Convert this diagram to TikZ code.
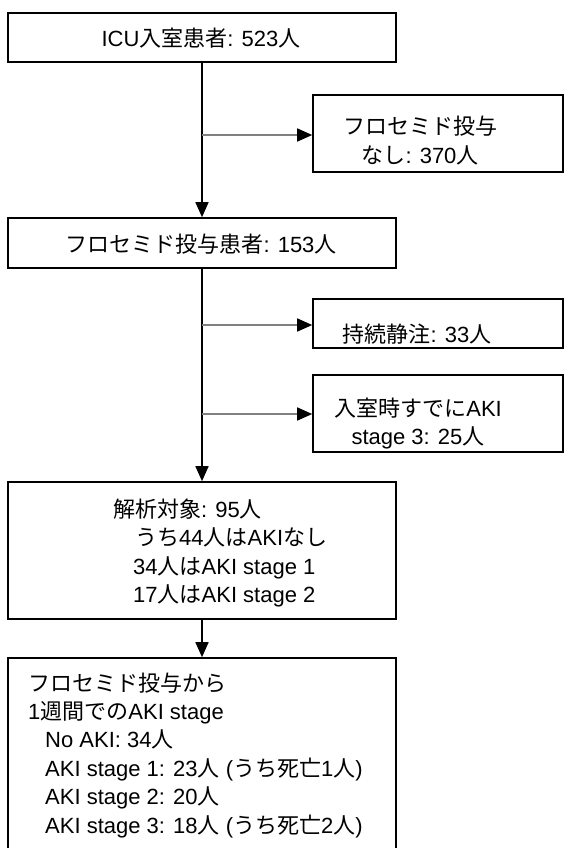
\documentclass[tikz,border=0pt]{standalone}
\usepackage{fontspec}
\setmainfont{Liberation Sans}
\newfontfamily\cjk[Scale=1.0]{Noto Sans CJK JP}
\usetikzlibrary{arrows.meta}
\newcommand\J[1]{{\cjk #1}}
\begin{document}
\begin{tikzpicture}[x=1pt,y=-1pt,
  box/.style={draw, line width=1.6pt, inner sep=0pt, minimum width=388pt},
  rbox/.style={draw, line width=1.6pt, inner sep=0pt, minimum width=250pt},
  txt/.style={inner sep=0pt, anchor=base, font=\fontsize{22}{28}\selectfont},
  ltxt/.style={inner sep=0pt, anchor=base west, font=\fontsize{22}{28}\selectfont},
  main/.style={line width=1.6pt, -{Triangle[length=15pt,width=13pt]}},
  side/.style={line width=1.5pt, draw=black!50, -{Triangle[length=15pt,width=13pt,fill=black,color=black]}}]
\useasboundingbox (0,0) rectangle (564,848);
\clip (0,0) rectangle (564,848);
\fill[white] (0,0) rectangle (564,848);
% boxes
\node[box, minimum height=49pt] (b1) at (202,37.5) {};
\node[rbox, minimum height=77pt] (b2) at (438,133.5) {};
\node[box, minimum height=50pt] (b3) at (202,243) {};
\node[rbox, minimum height=49pt] (b4) at (438,323.5) {};
\node[rbox, minimum height=77pt] (b5) at (438,413.5) {};
\node[box, minimum height=137pt] (b6) at (202,550.5) {};
\node[box, minimum height=220pt] (b7) at (202,768) {};
% texts
\node[txt] (t1) at (201,47) {ICU\J{入室患者}: 523\J{人}};
\node[txt] (t2a) at (420,135) {\J{フロセミド投与}};
\node[txt] (t2b) at (420,163) {\J{なし}: 370\J{人}};
\node[txt] (t3) at (201,252) {\J{フロセミド投与患者}: 153\J{人}};
\node[txt] (t4) at (417,342) {\J{持続静注}: 33\J{人}};
\node[txt] (t5a) at (418,416.5) {\J{入室時すでに}AKI};
\node[txt] (t5b) at (418,444) {stage 3: 25\J{人}};
\node[ltxt] (t6a) at (113,517) {\J{解析対象}: 95\J{人}};
\node[ltxt] (t6b) at (135,545.5) {\J{うち}44\J{人は}AKI\J{なし}};
\node[ltxt] (t6c) at (133,574) {34\J{人は}AKI stage 1};
\node[ltxt] (t6d) at (133,602.5) {17\J{人は}AKI stage 2};
\node[ltxt] (t7a) at (28,691) {\J{フロセミド投与から}};
\node[ltxt] (t7b) at (28,719) {1\J{週間での}AKI stage};
\node[ltxt] (t7c) at (45,747.5) {No AKI: 34\J{人}};
\node[ltxt] (t7d) at (45,776) {AKI stage 1: 23\J{人} (\J{うち死亡}1\J{人})};
\node[ltxt] (t7e) at (45,804) {AKI stage 2: 20\J{人}};
\node[ltxt] (t7f) at (45,833) {AKI stage 3: 18\J{人} (\J{うち死亡}2\J{人})};
% connectors
\coordinate (j1) at (202,135);
\coordinate (j2) at (202,325);
\coordinate (j3) at (202,414);
\draw[main] (b1.south) -- (b3.north);
\draw[main] (b3.south) -- (b6.north);
\draw[main] (b6.south) -- (b7.north);
\draw[side] (j1) -- (j1 -| b2.west);
\draw[side] (j2) -- (j2 -| b4.west);
\draw[side] (j3) -- (j3 -| b5.west);
\end{tikzpicture}
\end{document}
